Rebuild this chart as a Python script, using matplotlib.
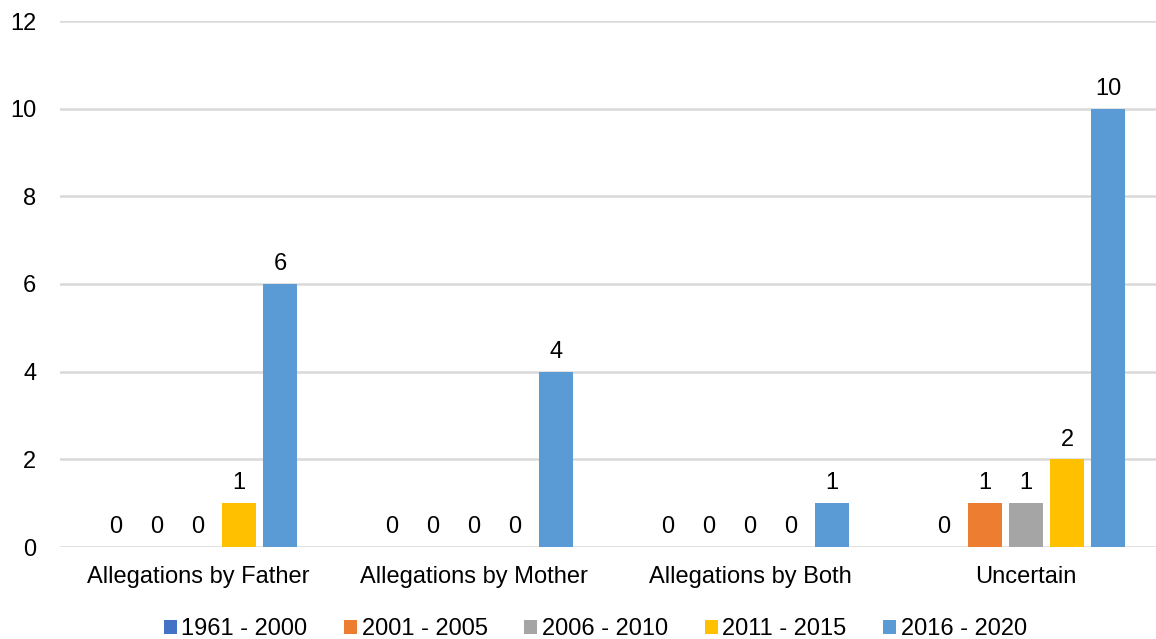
import numpy as np
import matplotlib
matplotlib.use('Agg')
import matplotlib.pyplot as plt

plt.rcParams['font.family'] = ['Liberation Sans', 'DejaVu Sans']

categories = ["Allegations by Father", "Allegations by Mother", "Allegations by Both", "Uncertain"]
series = ["1961 - 2000", "2001 - 2005", "2006 - 2010", "2011 - 2015", "2016 - 2020"]
v1961 = [0, 0, 0, 0]
v2001 = [0, 0, 0, 1]
v2006 = [0, 0, 0, 1]
v2011 = [1, 0, 0, 2]
v2016 = [6, 4, 1, 10]
colors = ["#4472C4", "#ED7D31", "#A5A5A5", "#FFC000", "#5B9BD5"]

def main():
    values = [v1961, v2001, v2006, v2011, v2016]
    fig = plt.figure(figsize=(11.56, 6.39), dpi=100)
    ax = fig.add_axes([60/1156, 92/639, 1104/1156, 526/639])

    x = np.arange(len(categories))
    step = 0.1486
    width = 0.123
    for i, (name, vals) in enumerate(zip(series, values)):
        pos = x + (i - 2) * step
        ax.bar(pos, vals, width=width, color=colors[i], label=name, zorder=3)
        for p, v in zip(pos, vals):
            ax.text(p, v + 0.2, str(v), ha='center', va='bottom', fontsize=17)

    ax.set_xlim(-0.5, 3.5)
    ax.set_ylim(0, 12)
    ax.set_yticks(range(0, 13, 2))
    ax.set_xticks(x)
    ax.set_xticklabels(categories)
    ax.tick_params(axis='both', length=0, labelsize=17)
    ax.tick_params(axis='y', pad=17)
    ax.tick_params(axis='x', pad=14)
    ax.grid(axis='y', color='#D9D9D9', linewidth=1.8, zorder=0)
    for s in ax.spines.values():
        s.set_visible(False)

    fig.legend(loc='lower center', bbox_to_anchor=(0.515, -0.035), ncol=5, frameon=False,
               fontsize=17, handlelength=0.55, handleheight=0.55, handletextpad=0.2,
               columnspacing=1.55)

    fig.savefig("out.png", dpi=100)

if __name__ == "__main__":
    main()
